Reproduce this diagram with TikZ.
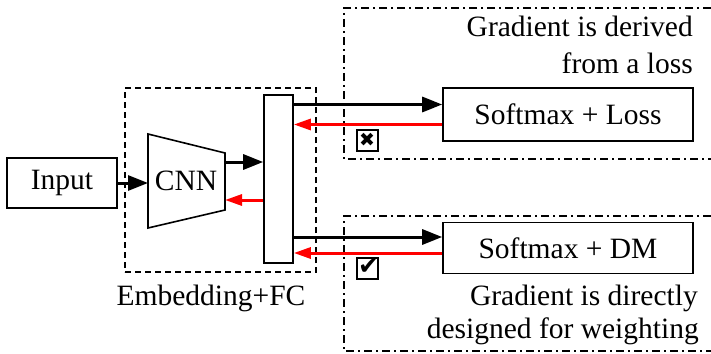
\documentclass[tikz,border=0pt]{standalone}
\usepackage{fontspec}
\setmainfont{Liberation Serif}
\newfontfamily\symfont{DejaVu Sans}
\usetikzlibrary{arrows.meta}

\begin{document}
\begin{tikzpicture}[x=1pt,y=-1pt,
  box/.style={draw,line width=1.6pt,inner sep=0pt,font=\fontsize{29.5}{36}\selectfont},
  fwd/.style={-{Triangle[length=20pt,width=15pt]},line width=3pt},
  bwd/.style={-{Triangle[length=17pt,width=11pt]},red,line width=3pt},
  region/.style={line width=1.4pt,dash pattern=on 8pt off 4pt on 2pt off 4pt},
  note/.style={anchor=base east,inner sep=0pt,font=\fontsize{29.5}{36}\selectfont},
  checkbox/.style={draw,line width=2pt,minimum size=21pt,inner sep=0pt}]
  \useasboundingbox (0,0) rectangle (711,353);
  % dash-dot regions on the right
  \draw[region] (711,8) -- (344,8) -- (344,159) -- (711,159);
  \draw[region] (711,216) -- (344,216) -- (344,351) -- (711,351);
  % embedding + FC block
  \node[draw,line width=1.5pt,dash pattern=on 6pt off 4pt,minimum width=191pt,minimum height=184pt] (emb) at (220.5,180) {};
  \node[note,anchor=base] (emblabel) at (211,305) {Embedding+FC};
  \node[box,minimum width=110pt,minimum height=50pt] (input) at (62,183) {Input};
  \coordinate (c1) at (148,134);
  \coordinate (c2) at (225,153);
  \coordinate (c3) at (225,210);
  \coordinate (c4) at (148,228);
  \draw[line width=1.6pt] (c1) -- (c2) -- (c3) -- (c4) -- cycle;
  \node[font=\fontsize{29.5}{36}\selectfont,inner sep=0pt] (cnn) at (186,181) {CNN};
  \node[draw,line width=1.6pt,minimum width=29pt,minimum height=168pt] (fc) at (278.5,179) {};
  \draw[fwd] (input.east) -- (c1 |- input.east);
  \coordinate (cnnout) at (225,162);
  \coordinate (cnnin) at (225,200);
  \draw[fwd] (cnnout) -- (cnnout -| fc.west);
  \draw[bwd] (cnnin -| fc.west) -- (cnnin);
  % heads
  \node[box,minimum width=250pt,minimum height=53pt] (loss) at (568,114.5) {Softmax + Loss};
  \node[box,minimum width=250pt,minimum height=51pt] (dm) at (568,248) {Softmax + DM};
  \coordinate (lossin) at ([yshift=10pt]loss.west);
  \coordinate (lossout) at ([yshift=-10pt]loss.west);
  \coordinate (dmin) at ([yshift=11pt]dm.west);
  \coordinate (dmout) at ([yshift=-5pt]dm.west);
  \draw[fwd] (lossin -| fc.east) -- (lossin);
  \draw[bwd] (lossout) -- (lossout -| fc.east);
  \draw[fwd] (dmin -| fc.east) -- (dmin);
  \draw[bwd] (dmout) -- (dmout -| fc.east);
  \node[checkbox] (nocheck) at (367,140) {};
  \node[checkbox] (yescheck) at (367,268) {};
  \node[font=\symfont\fontsize{19}{19}\selectfont,inner sep=0pt] (nomark) at (nocheck) {✖};
  \node[font=\symfont\fontsize{25}{25}\selectfont,inner sep=0pt] (yesmark) at ([xshift=1.5pt,yshift=1pt]yescheck) {✔};
  % notes
  \node[note] (lossnote1) at (693,37) {Gradient is derived};
  \node[note] (lossnote2) at (693,73) {from a loss};
  \node[note] (dmnote1) at (698,305) {Gradient is directly};
  \node[note] (dmnote2) at (699,338) {designed for weighting};
\end{tikzpicture}
\end{document}
